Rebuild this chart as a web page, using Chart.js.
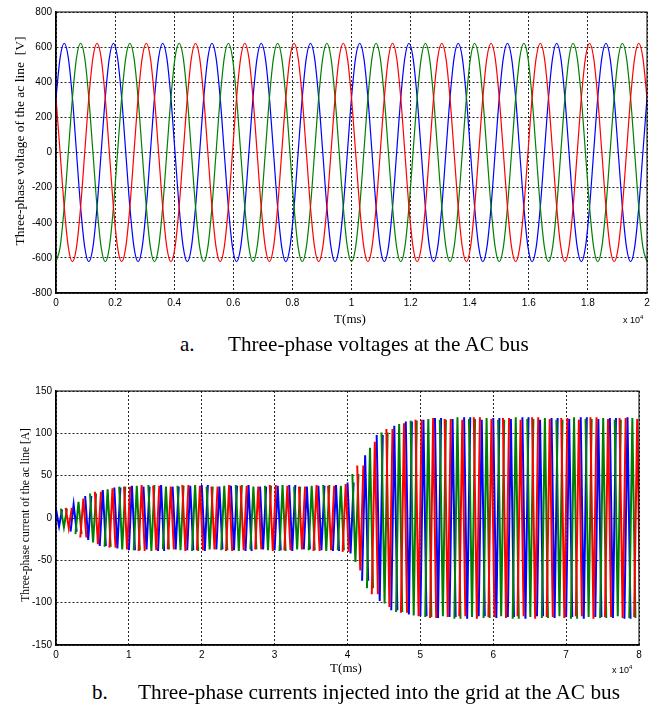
<!DOCTYPE html>
<html>
<head>
<meta charset="utf-8">
<script src="https://cdn.jsdelivr.net/npm/chart.js@4"></script>
<style>
  body { margin: 0; background: #fff; width: 657px; height: 704px; position: relative; overflow: hidden; }
  canvas { position: absolute; left: 0; }
  .serif { position: absolute; font-family: "Liberation Serif", "Times New Roman", serif; color: #000; white-space: nowrap; line-height: 1; }
  .ytitle { transform: translate(-50%, -50%) rotate(-90deg); }
  .xtitle { transform: translate(-50%, -50%); }
  .exp { position: absolute; font-family: "Liberation Sans", Arial, sans-serif; font-size: 9px; color: #000; line-height: 1; }
  .exp sup { font-size: 6px; vertical-align: 4px; }
</style>
</head>
<body>
<canvas id="volt" width="657" height="312" style="top:0"></canvas>
<canvas id="curr" width="657" height="284" style="top:380px"></canvas>

<div class="serif ytitle" style="left:20px; top:141px; font-size:13.5px;">Three-phase voltage of the ac line&nbsp; [V]</div>
<div class="serif xtitle" style="left:350px; top:318px; font-size:13px;">T(ms)</div>
<div class="exp" style="left:623px; top:314px;">x 10<sup>4</sup></div>
<div class="serif" style="left:180px; top:334px; font-size:21px;">a.</div>
<div class="serif" style="left:228px; top:334px; font-size:21.2px;">Three-phase voltages at the AC bus</div>

<div class="serif ytitle" style="left:26px; top:515px; font-size:11.5px;">Three-phase current of the ac line [A]</div>
<div class="serif xtitle" style="left:346px; top:667px; font-size:13px;">T(ms)</div>
<div class="exp" style="left:612px; top:664px;">x 10<sup>4</sup></div>
<div class="serif" style="left:92px; top:682px; font-size:21px;">b.</div>
<div class="serif" style="left:138px; top:682px; font-size:21.3px;">Three-phase currents injected into the grid at the AC bus</div>

<script>
// (a) three-phase voltage, sampled every 30 degrees (12 cycles over 20000 ms)
const voltT = [
  0, 139, 278, 417, 556, 694, 833, 972, 1111, 1250, 1389, 1528,
  1667, 1806, 1944, 2083, 2222, 2361, 2500, 2639, 2778, 2917, 3056, 3194,
  3333, 3472, 3611, 3750, 3889, 4028, 4167, 4306, 4444, 4583, 4722, 4861,
  5000, 5139, 5278, 5417, 5556, 5694, 5833, 5972, 6111, 6250, 6389, 6528,
  6667, 6806, 6944, 7083, 7222, 7361, 7500, 7639, 7778, 7917, 8056, 8194,
  8333, 8472, 8611, 8750, 8889, 9028, 9167, 9306, 9444, 9583, 9722, 9861,
  10000, 10139, 10278, 10417, 10556, 10694, 10833, 10972, 11111, 11250, 11389, 11528,
  11667, 11806, 11944, 12083, 12222, 12361, 12500, 12639, 12778, 12917, 13056, 13194,
  13333, 13472, 13611, 13750, 13889, 14028, 14167, 14306, 14444, 14583, 14722, 14861,
  15000, 15139, 15278, 15417, 15556, 15694, 15833, 15972, 16111, 16250, 16389, 16528,
  16667, 16806, 16944, 17083, 17222, 17361, 17500, 17639, 17778, 17917, 18056, 18194,
  18333, 18472, 18611, 18750, 18889, 19028, 19167, 19306, 19444, 19583, 19722, 19861,
  20000];
const voltBlue = [
  311, 539, 622, 539, 311, 0, -311, -539, -622, -539, -311, 0,
  311, 539, 622, 539, 311, 0, -311, -539, -622, -539, -311, 0,
  311, 539, 622, 539, 311, 0, -311, -539, -622, -539, -311, 0,
  311, 539, 622, 539, 311, 0, -311, -539, -622, -539, -311, 0,
  311, 539, 622, 539, 311, 0, -311, -539, -622, -539, -311, 0,
  311, 539, 622, 539, 311, 0, -311, -539, -622, -539, -311, 0,
  311, 539, 622, 539, 311, 0, -311, -539, -622, -539, -311, 0,
  311, 539, 622, 539, 311, 0, -311, -539, -622, -539, -311, 0,
  311, 539, 622, 539, 311, 0, -311, -539, -622, -539, -311, 0,
  311, 539, 622, 539, 311, 0, -311, -539, -622, -539, -311, 0,
  311, 539, 622, 539, 311, 0, -311, -539, -622, -539, -311, 0,
  311, 539, 622, 539, 311, 0, -311, -539, -622, -539, -311, 0,
  311];
const voltGreen = [
  -622, -539, -311, 0, 311, 539, 622, 539, 311, 0, -311, -539,
  -622, -539, -311, 0, 311, 539, 622, 539, 311, 0, -311, -539,
  -622, -539, -311, 0, 311, 539, 622, 539, 311, 0, -311, -539,
  -622, -539, -311, 0, 311, 539, 622, 539, 311, 0, -311, -539,
  -622, -539, -311, 0, 311, 539, 622, 539, 311, 0, -311, -539,
  -622, -539, -311, 0, 311, 539, 622, 539, 311, 0, -311, -539,
  -622, -539, -311, 0, 311, 539, 622, 539, 311, 0, -311, -539,
  -622, -539, -311, 0, 311, 539, 622, 539, 311, 0, -311, -539,
  -622, -539, -311, 0, 311, 539, 622, 539, 311, 0, -311, -539,
  -622, -539, -311, 0, 311, 539, 622, 539, 311, 0, -311, -539,
  -622, -539, -311, 0, 311, 539, 622, 539, 311, 0, -311, -539,
  -622, -539, -311, 0, 311, 539, 622, 539, 311, 0, -311, -539,
  -622];
const voltRed = [
  311, 0, -311, -539, -622, -539, -311, 0, 311, 539, 622, 539,
  311, 0, -311, -539, -622, -539, -311, 0, 311, 539, 622, 539,
  311, 0, -311, -539, -622, -539, -311, 0, 311, 539, 622, 539,
  311, 0, -311, -539, -622, -539, -311, 0, 311, 539, 622, 539,
  311, 0, -311, -539, -622, -539, -311, 0, 311, 539, 622, 539,
  311, 0, -311, -539, -622, -539, -311, 0, 311, 539, 622, 539,
  311, 0, -311, -539, -622, -539, -311, 0, 311, 539, 622, 539,
  311, 0, -311, -539, -622, -539, -311, 0, 311, 539, 622, 539,
  311, 0, -311, -539, -622, -539, -311, 0, 311, 539, 622, 539,
  311, 0, -311, -539, -622, -539, -311, 0, 311, 539, 622, 539,
  311, 0, -311, -539, -622, -539, -311, 0, 311, 539, 622, 539,
  311, 0, -311, -539, -622, -539, -311, 0, 311, 539, 622, 539,
  311];

// (b) three-phase current: one swing per phase every 2000 ms, peak value
const currBlueT = [
  0, 2000, 4000, 6000, 8000, 10000, 12000, 14000, 16000, 18000,
  20000, 22000, 24000, 26000, 28000, 30000, 32000, 34000, 36000, 38000,
  40000, 42000, 44000, 46000, 48000, 50000, 52000, 54000, 56000, 58000,
  60000, 62000, 64000, 66000, 68000, 70000, 72000, 74000, 76000, 78000];
const currBlue = [
  10, 16, 26, 33, 36, 38, 37, 39, 37, 38,
  39, 37, 38, 39, 37, 38, 39, 37, 38, 39,
  42, 74, 98, 109, 114, 116, 118, 117, 119, 116,
  118, 117, 119, 116, 118, 117, 119, 117, 118, 119];
const currGreenT = [
  667, 2667, 4667, 6667, 8667, 10667, 12667, 14667, 16667, 18667,
  20667, 22667, 24667, 26667, 28667, 30667, 32667, 34667, 36667, 38667,
  40667, 42667, 44667, 46667, 48667, 50667, 52667, 54667, 56667, 58667,
  60667, 62667, 64667, 66667, 68667, 70667, 72667, 74667, 76667, 78667];
const currGreen = [
  11, 19, 29, 34, 37, 38, 39, 37, 38, 39,
  37, 38, 39, 37, 38, 39, 37, 38, 39, 38,
  52, 83, 101, 111, 115, 117, 116, 119, 117, 118,
  116, 119, 117, 118, 116, 119, 117, 118, 116, 118];
const currRedT = [
  1333, 3333, 5333, 7333, 9333, 11333, 13333, 15333, 17333, 19333,
  21333, 23333, 25333, 27333, 29333, 31333, 33333, 35333, 37333, 39333,
  41333, 43333, 45333, 47333, 49333, 51333, 53333, 55333, 57333, 59333,
  61333, 63333, 65333, 67333, 69333, 71333, 73333, 75333, 77333, 79333];
const currRed = [
  12, 23, 31, 35, 37, 39, 38, 37, 39, 38,
  37, 39, 38, 37, 39, 38, 37, 39, 38, 40,
  62, 90, 105, 112, 116, 118, 117, 116, 119, 117,
  118, 116, 119, 117, 118, 116, 119, 117, 118, 117];

const voltTicksY = { min: -800, max: 800, step: 200 };
const voltTicksX = { min: 0, max: 20000, step: 2000 };
const currTicksY = { min: -150, max: 150, step: 50 };
const currTicksX = { min: 0, max: 80000, step: 10000 };

const BLUE = "#0000ff", GREEN = "#008000", RED = "#ff0000";
const tickFont = { family: "'Liberation Sans', Arial, sans-serif", size: 10 };

const frame = {
  id: "frame",
  afterDraw(chart) {
    const { ctx, chartArea: a } = chart;
    ctx.save();
    ctx.strokeStyle = "#000";
    ctx.lineWidth = 1;
    ctx.strokeRect(a.left, a.top, a.right - a.left, a.bottom - a.top);
    ctx.restore();
  }
};

function axes(tx, ty, xHeight) {
  return {
    x: {
      type: "linear", min: tx.min, max: tx.max, z: 1,
      ticks: { stepSize: tx.step, autoSkip: false, maxRotation: 0, padding: 4, color: "#000", font: tickFont,
        callback: v => +(v / 10000).toFixed(1) },
      grid: { color: "rgba(0,0,0,0.85)", lineWidth: 1, drawTicks: false },
      border: { color: "#000", width: 1.5, dash: [2, 2] },
      afterFit: s => { s.height = xHeight; }
    },
    y: {
      type: "linear", min: ty.min, max: ty.max, z: 1,
      ticks: { stepSize: ty.step, padding: 4, color: "#000", font: tickFont },
      grid: { color: "rgba(0,0,0,0.85)", lineWidth: 1, drawTicks: false },
      border: { color: "#000", width: 1.5, dash: [2, 2] },
      afterFit: s => { s.width = 56; }
    }
  };
}

const pts = (xs, ys) => xs.map((x, i) => ({ x: x, y: ys[i] }));

// each swing: peak, trough, peak close together (flipped every other one), then a break
function swings(times, amps) {
  const out = [];
  times.forEach((t, i) => {
    const a = i % 2 ? -amps[i] : amps[i];
    out.push({ x: t, y: a }, { x: t + 420, y: -a }, { x: t + 840, y: a }, { x: t + 841, y: null });
  });
  return out;
}

const voltLine = (data, color) => ({
  data: data, borderColor: color, borderWidth: 1.2, pointRadius: 0,
  cubicInterpolationMode: "monotone", fill: false
});

new Chart(document.getElementById("volt"), {
  type: "line",
  data: {
    datasets: [
      voltLine(pts(voltT, voltRed), RED),
      voltLine(pts(voltT, voltGreen), GREEN),
      voltLine(pts(voltT, voltBlue), BLUE)]
  },
  options: {
    responsive: false, animation: false,
    layout: { padding: { top: 12, right: 10, left: 0, bottom: 0 } },
    plugins: { legend: { display: false }, tooltip: { enabled: false } },
    scales: axes(voltTicksX, voltTicksY, 19)
  },
  plugins: [frame]
});

const currLine = (data, color) => ({
  data: data, borderColor: color, borderWidth: 2, pointRadius: 0,
  tension: 0, spanGaps: false, fill: false
});

new Chart(document.getElementById("curr"), {
  type: "line",
  data: {
    datasets: [
      currLine(swings(currRedT, currRed), RED),
      currLine(swings(currGreenT, currGreen), GREEN),
      currLine(swings(currBlueT, currBlue), BLUE)]
  },
  options: {
    responsive: false, animation: false,
    layout: { padding: { top: 11, right: 18, left: 0, bottom: 0 } },
    plugins: { legend: { display: false }, tooltip: { enabled: false } },
    scales: axes(currTicksX, currTicksY, 19)
  },
  plugins: [frame]
});
</script>
</body>
</html>
